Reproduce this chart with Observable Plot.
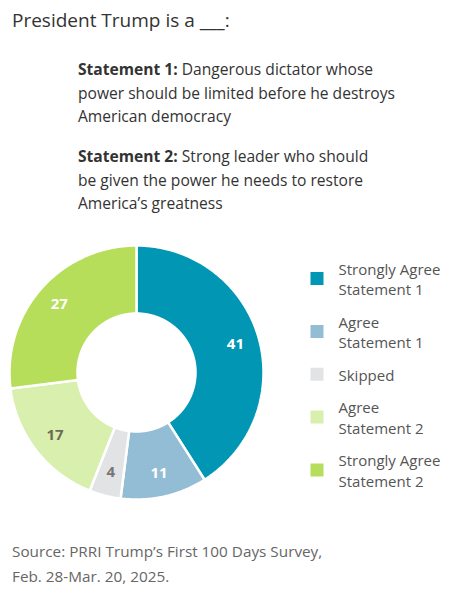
<!DOCTYPE html>
<html>
<head>
<meta charset="utf-8">
<script src="https://cdn.jsdelivr.net/npm/d3@7"></script>
<script src="https://cdn.jsdelivr.net/npm/@observablehq/plot@0.6"></script>
<style>
  html, body { margin: 0; padding: 0; background: #fff; }
  body { width: 459px; height: 596px; position: relative; overflow: hidden; font-family: "Open Sans", sans-serif; }
  .abs { position: absolute; }
  #title { left: 12px; top: 7.6px; font-size: 19px; line-height: 24px; color: #333; white-space: nowrap; }
  #statements { left: 78px; top: 58.2px; font-size: 15.6px; line-height: 23.5px; color: #333; white-space: nowrap; }
  #statements p { margin: 0 0 16.5px 0; }
  #statements b { font-weight: 700; }
  #chart { left: 0; top: 237px; }
  #source { left: 12px; top: 538.7px; font-size: 15.3px; line-height: 25px; color: #666; white-space: nowrap; }
</style>
</head>
<body>
<div id="title" class="abs">President Trump is a ___:</div>
<div id="statements" class="abs">
  <p><b>Statement 1:</b> Dangerous dictator whose<br>power should be limited before he destroys<br>American democracy</p>
  <p><b>Statement 2:</b> Strong leader who should<br>be given the power he needs to restore<br>America’s greatness</p>
</div>
<div id="chart" class="abs"></div>
<div id="source" class="abs">Source: PRRI Trump’s First 100 Days Survey,<br>Feb. 28-Mar. 20, 2025.</div>
<script>
// ---- data ----
const categories = ["Strongly Agree Statement 1", "Agree Statement 1", "Skipped", "Agree Statement 2", "Strongly Agree Statement 2"];
const legendLabels = ["Strongly Agree\nStatement 1", "Agree\nStatement 1", "Skipped", "Agree\nStatement 2", "Strongly Agree\nStatement 2"];
const values = [41, 11, 4, 17, 27];
const colors = ["#0096b4", "#93bdd4", "#e2e3e5", "#d8efad", "#b6de5a"];
const labelColors = ["#ffffff", "#ffffff", "#767676", "#6d6b55", "#ffffff"];

// ---- layout constants (pixels) ----
const W = 459, H = 270, PX = 127, CX = 136, CY = 135;
const px2x = p => (p - CX) / PX;          // pixel -> data x
const py2y = p => (CY - p) / PX;          // pixel -> data y

// ---- geometry (donut built from the values) ----
const R_OUT = 1.0, R_IN = 59 / 127, R_LABEL = 103 / 127;
const total = d3.sum(values);
let acc = 0;
const slices = values.map((v, i) => {
  const a0 = acc / total * 2 * Math.PI;
  acc += v;
  const a1 = acc / total * 2 * Math.PI;
  return {category: categories[i], value: v, a0, a1, i};
});
const ringPts = [];
for (const s of slices) {
  const n = Math.max(2, Math.ceil((s.a1 - s.a0) / (Math.PI / 360)));
  for (let k = 0; k <= n; k++) {
    const a = s.a0 + (s.a1 - s.a0) * k / n;
    ringPts.push({category: s.category, x: R_OUT * Math.sin(a), y: R_OUT * Math.cos(a)});
  }
  for (let k = n; k >= 0; k--) {
    const a = s.a0 + (s.a1 - s.a0) * k / n;
    ringPts.push({category: s.category, x: R_IN * Math.sin(a), y: R_IN * Math.cos(a)});
  }
}
const labels = slices.map(s => {
  const a = (s.a0 + s.a1) / 2;
  return {text: String(s.value), x: R_LABEL * Math.sin(a), y: R_LABEL * Math.cos(a), color: labelColors[s.i]};
});

// ---- legend layout ----
const FS = 15, LINE = 20.5, GAP = 12;
let ly = 257.5 - 237;
const legendRows = categories.map((c, i) => {
  const nLines = legendLabels[i].split("\n").length;
  const h = nLines * LINE;
  const mid = ly + h / 2;
  ly += h + GAP;
  return {category: c, label: legendLabels[i], sx: px2x(316.5), tx: px2x(338), y: py2y(mid)};
});

const chart = Plot.plot({
  width: W, height: H,
  margin: 0,
  style: {fontFamily: "Open Sans"},
  x: {domain: [-CX / PX, (W - CX) / PX], range: [0, W], axis: null},
  y: {domain: [-(H - CY) / PX, CY / PX], range: [H, 0], axis: null},
  color: {domain: categories, range: colors},
  marks: [
    Plot.line(ringPts, {x: "x", y: "y", z: "category", fill: "category", stroke: "#fff", strokeWidth: 2.5, curve: "linear-closed", strokeLinejoin: "miter"}),
    Plot.text(labels, {x: "x", y: "y", text: "text", fill: "color", fontSize: 15, fontWeight: 700, textAnchor: "middle", lineAnchor: "middle"}),
    Plot.dot(legendRows, {x: "sx", y: "y", fill: "category", symbol: "square", r: 13 / Math.sqrt(Math.PI), stroke: null}),
    Plot.text(legendRows, {x: "tx", y: "y", text: "label", fill: "#555", fontSize: FS, lineHeight: LINE / FS, textAnchor: "start", lineAnchor: "middle"})
  ]
});
document.getElementById("chart").appendChild(chart);
</script>
</body>
</html>
